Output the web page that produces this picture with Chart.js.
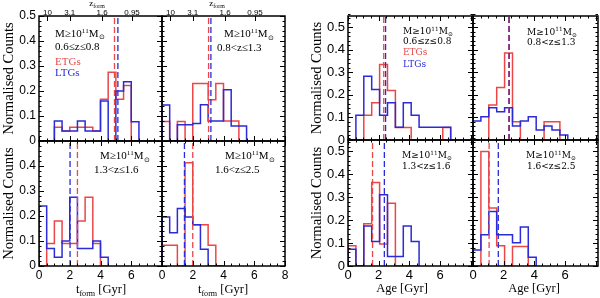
<!DOCTYPE html>
<html><head><meta charset="utf-8">
<script src="https://cdn.jsdelivr.net/npm/chart.js@4.4.1/dist/chart.umd.min.js"></script>
<style>
html,body{margin:0;padding:0;background:#fff;}
#wrap{position:relative;width:600px;height:298px;overflow:hidden;background:#fff;}
#wrap canvas{position:absolute;left:0;top:0;}
.t{position:absolute;white-space:nowrap;line-height:1;transform:translateY(-50%);color:#000;z-index:5;}
.c{transform:translate(-50%,-50%);}
.lf{font-family:"Liberation Serif",serif;font-size:11px;}
.rf{font-family:"DejaVu Serif",serif;font-size:9px;}
.xt{font-family:"Liberation Serif",serif;font-size:12.5px;}
.zt{font-family:"Liberation Serif",serif;font-size:9px;}
.t sup,.t sub{font-size:65%;line-height:0;position:relative;vertical-align:baseline;}
.t sup{top:-0.55em}.t sub{top:0.35em}
</style></head>
<body><div id="wrap"></div>
<script>
// ---------------- data ----------------
const tformEdges = [0,0.5,1,1.5,2,2.5,3,3.5,4,4.5,5,5.5,6,6.5,7,7.5,8];
const ageEdges = [0,0.515,1.03,1.545,2.06,2.575,3.09,3.605,4.12,4.635,5.15,5.665,6.18,6.695];

// formation time histograms (left figure)
const tf_z06_08_ETG = [0,0,0.055,0.04,0.055,0.055,0.055,0.04,0.167,0.275,0.167,0.222,0];
const tf_z06_08_LTG = [0,0,0.08,0.04,0.04,0.08,0.04,0.04,0.16,0,0.2,0.237,0.077];
const tf_z08_13_ETG = [0.078,0,0.078,0,0.23,0.23,0.165,0.23,0.08,0.08,0];
const tf_z08_13_LTG = [0.144,0,0.065,0.065,0.07,0.145,0.08,0.08,0.205,0.06,0.06];
const tf_z13_16_ETG = [0,0.09,0.18,0.09,0.09,0.18,0.275,0.09,0];
const tf_z13_16_LTG = [0.24,0.07,0.035,0.1,0.275,0.07,0.07,0.1,0.035];
const tf_z16_25_ETG = [0.083,0.083,0,0.413,0.165,0.165,0.083,0];
const tf_z16_25_LTG = [0.196,0.133,0.23,0.196,0.165,0.067,0,0];

// age histograms (right figure)
const age_z06_08_ETG = [0,0,0.11,0.165,0.335,0.22,0.055,0.055,0,0,0,0,0.055];
const age_z06_08_LTG = [0,0.11,0.283,0.224,0.11,0.165,0.056,0.165,0.11,0.056,0.056,0.056,0.056];
const age_z08_13_ETG = [0,0,0.155,0.233,0.386,0.081,0,0,0,0.081,0.081,0];
const age_z08_13_LTG = [0.084,0.103,0.143,0.125,0.143,0.062,0.084,0.103,0.044,0.062,0.044,0.022];
const age_z13_16_ETG = [0.088,0,0.184,0.365,0.096,0.274,0,0,0];
const age_z13_16_LTG = [0.073,0,0.175,0.107,0.311,0.041,0.041,0.175,0.107];
const age_z16_25_ETG = [0,0.5,0.253,0.088,0,0.085,0.085,0];
const age_z16_25_LTG = [0.07,0.136,0.238,0.136,0.136,0.102,0.17,0.038];

// medians (order: 0.6-0.8, 0.8-1.3, 1.3-1.6, 1.6-2.5)
const medTformETG = [4.91,3.03,2.5,2.0];
const medTformLTG = [5.13,3.18,2.02,1.46];
const medAgeETG = [2.33,2.33,1.6,1.05];
const medAgeLTG = [2.45,2.36,2.37,1.65];

// top axis (redshift of formation)
const zTickPos = [0.55,2.0,4.1,6.05];
const zTickLabels = ['10','3.1','1.6','0.95'];

const RED = '#eb4747', BLUE = '#2b2bd8';

// ---------------- helpers ----------------
function histPoints(edges, vals){
  const pts=[{x:edges[0],y:0}];
  vals.forEach((v,i)=>pts.push({x:edges[i],y:v}));
  pts.push({x:edges[vals.length],y:0});
  return pts;
}

const framePlugin = {
  id:'frame',
  afterDatasetsDraw(chart){
    const o = chart.options.plugins.frame;
    const {ctx, chartArea:{left,right,top,bottom}, scales:{x,y}} = chart;
    ctx.save();
    ctx.strokeStyle='#000'; ctx.lineWidth=1;
    const seg=(a,b,c,d)=>{ctx.beginPath();ctx.moveTo(a,b);ctx.lineTo(c,d);ctx.stroke();};
    const ny=Math.round(o.yMax/0.02);
    for(let k=0;k<=ny;k++){
      const py=Math.round(y.getPixelForValue(k*0.02))+0.5;
      const len=(k%5===0)?5:2.5;
      seg(left,py,left+len,py); seg(right,py,right-len,py);
    }
    const nx=Math.floor(o.xMax/0.5+1e-6);
    for(let k=0;k<=nx;k++){
      const px=Math.round(x.getPixelForValue(k*0.5))+0.5;
      const len=(k%4===0)?5:2.5;
      seg(px,bottom,px,bottom-len);
      if(!o.zTop) seg(px,top,px,top+len);
    }
    if(o.zTop){
      zTickPos.forEach(v=>{const px=Math.round(x.getPixelForValue(v))+0.5; seg(px,top,px,top+5);});
    }
    ctx.lineWidth=1.5;
    ctx.strokeRect(left,top,right-left,bottom-top);
    ctx.restore();
  }
};

const wrap=document.getElementById('wrap');

function build(p){
  const [l,t,r,b]=p.rect;
  const cv=document.createElement('canvas'); cv.width=600; cv.height=298; wrap.appendChild(cv);
  const yW=p.yLab? l-p.yLeft : 0;
  const xH=p.xLab? 298-b : 0;
  const topH=p.zTop? t : 0;
  const tickFont={family:'"Liberation Sans", Arial, sans-serif', size:p.fs};
  const scales={
    x:{type:'linear',min:0,max:p.xMax,display:p.xLab,position:'bottom',
       grid:{display:false,drawTicks:false},border:{display:false},
       ticks:{stepSize:2,includeBounds:false,autoSkip:false,maxRotation:0,padding:2,color:'#000',font:tickFont,
              callback:v=>(p.xShow.includes(v)?String(v):'')},
       afterFit:s=>{s.height=xH;}},
    y:{type:'linear',min:0,max:p.yMax,display:p.yLab,position:'left',
       grid:{display:false,drawTicks:false},border:{display:false},
       ticks:{stepSize:0.1,includeBounds:false,padding:3,color:'#000',font:tickFont,
              callback:v=>{ if(p.yHideTop && Math.abs(v-0.5)<1e-6) return ''; return Math.abs(v)<1e-9?'0':v.toFixed(1);} },
       title:{display:true,text:'Normalised Counts',color:'#000',font:{family:'"Liberation Serif", serif',size:14.5},padding:{top:p.yTitlePad,bottom:0}},
       afterFit:s=>{s.width=yW;}}
  };
  if(p.zTop){
    scales.x2={type:'linear',min:0,max:p.xMax,position:'top',display:true,
      grid:{display:false,drawTicks:false},border:{display:false},
      afterBuildTicks:s=>{s.ticks=zTickPos.map(v=>({value:v}));},
      ticks:{autoSkip:false,maxRotation:0,padding:-2,color:'#000',font:{family:'"Liberation Sans", Arial, sans-serif',size:8},
             callback:(v,i)=>zTickLabels[i]},
      afterFit:s=>{s.height=topH;}};
  }
  const dash=(m,c)=>({data:[{x:m,y:0},{x:m,y:p.yMax}],borderColor:c,borderWidth:1.3,borderDash:[6,3],pointRadius:0,fill:false});
  const hist=(vals,c)=>({data:histPoints(p.edges,vals),borderColor:c,borderWidth:1.5,stepped:true,pointRadius:0,fill:false,tension:0});
  new Chart(cv,{
    type:'line',
    data:{datasets:[dash(p.medL,BLUE),dash(p.medE,RED),hist(p.ltg,BLUE),hist(p.etg,RED)]},
    options:{responsive:false,animation:false,devicePixelRatio:1,events:[],
      layout:{padding:{left:l-yW,top:t-topH,right:600-r,bottom:298-b-xH}},
      scales,
      plugins:{legend:{display:false},tooltip:{enabled:false},frame:{xMax:p.xMax,yMax:p.yMax,zTop:p.zTop}}},
    plugins:[framePlugin]
  });
}

const L={yLeft:0,yTitlePad:0,fs:12,xMax:8,yMax:0.5,edges:tformEdges};
const R={yLeft:307,yTitlePad:1,fs:13,xMax:8.15,yMax:0.55,edges:ageEdges};
const panels=[
  {...L,rect:[39,16,162,141],yLab:true,yHideTop:false,xLab:false,zTop:true,xShow:[],etg:tf_z06_08_ETG,ltg:tf_z06_08_LTG,medE:medTformETG[0],medL:medTformLTG[0]},
  {...L,rect:[162,16,285,141],yLab:false,yHideTop:false,xLab:false,zTop:true,xShow:[],etg:tf_z08_13_ETG,ltg:tf_z08_13_LTG,medE:medTformETG[1],medL:medTformLTG[1]},
  {...L,rect:[39,141,162,266],yLab:true,yHideTop:true,xLab:true,zTop:false,xShow:[0,2,4,6],etg:tf_z13_16_ETG,ltg:tf_z13_16_LTG,medE:medTformETG[2],medL:medTformLTG[2]},
  {...L,rect:[162,141,285,266],yLab:false,yHideTop:false,xLab:true,zTop:false,xShow:[0,2,4,6,8],etg:tf_z16_25_ETG,ltg:tf_z16_25_LTG,medE:medTformETG[3],medL:medTformLTG[3]},
  {...R,rect:[348,16,473,140],yLab:true,yHideTop:false,xLab:false,zTop:false,xShow:[],etg:age_z06_08_ETG,ltg:age_z06_08_LTG,medE:medAgeETG[0],medL:medAgeLTG[0]},
  {...R,rect:[473,16,598,140],yLab:false,yHideTop:false,xLab:false,zTop:false,xShow:[],etg:age_z08_13_ETG,ltg:age_z08_13_LTG,medE:medAgeETG[1],medL:medAgeLTG[1]},
  {...R,rect:[348,140,473,266],yLab:true,yHideTop:false,xLab:true,zTop:false,xShow:[0,2,4,6],etg:age_z13_16_ETG,ltg:age_z13_16_LTG,medE:medAgeETG[2],medL:medAgeLTG[2]},
  {...R,rect:[473,140,598,266],yLab:false,yHideTop:false,xLab:true,zTop:false,xShow:[0,2,4,6],etg:age_z16_25_ETG,ltg:age_z16_25_LTG,medE:medAgeETG[3],medL:medAgeLTG[3]}
];
panels.forEach(build);

// ---------------- text ----------------
const MASS='M≥10<sup>11</sup>M<sub>⊙</sub>';
const texts=[
  // left figure
  {x:55,y:32.5,c:'lf',h:MASS},{x:55,y:46,c:'lf',h:'0.6≤z≤0.8'},
  {x:55,y:60.5,c:'lf',h:'ETGs',col:RED},{x:55,y:71.5,c:'lf',h:'LTGs',col:BLUE},
  {x:224,y:33,c:'lf',h:MASS},{x:217,y:46.5,c:'lf',h:'0.8&lt;z≤1.3'},
  {x:100,y:155,c:'lf',h:MASS},{x:94,y:169,c:'lf',h:'1.3&lt;z≤1.6'},
  {x:225,y:155,c:'lf',h:MASS},{x:215,y:169,c:'lf',h:'1.6&lt;z≤2.5'},
  // right figure
  {x:403,y:31,c:'rf',h:MASS},{x:403,y:40.5,c:'rf',h:'0.6≤z≤0.8'},
  {x:403,y:52,c:'rf',h:'ETGs',col:RED},{x:403,y:64,c:'rf',h:'LTGs',col:BLUE},
  {x:527,y:31.5,c:'rf',h:MASS},{x:527,y:42,c:'rf',h:'0.8&lt;z≤1.3'},
  {x:402,y:155,c:'rf',h:MASS},{x:402,y:165.5,c:'rf',h:'1.3&lt;z≤1.6'},
  {x:526,y:155,c:'rf',h:MASS},{x:527,y:165.5,c:'rf',h:'1.6&lt;z≤2.5'},
  // axis titles
  {x:101,y:289,c:'xt c',h:'t<sub>form</sub> [Gyr]'},{x:223,y:289,c:'xt c',h:'t<sub>form</sub> [Gyr]'},
  {x:402,y:288,c:'xt c',h:'Age [Gyr]'},{x:534,y:288,c:'xt c',h:'Age [Gyr]'},
  {x:97,y:2.5,c:'zt c',h:'z<sub>form</sub>'},{x:217,y:2.5,c:'zt c',h:'z<sub>form</sub>'}
];
texts.forEach(o=>{
  const d=document.createElement('div');
  d.className='t '+o.c; d.style.left=o.x+'px'; d.style.top=o.y+'px';
  if(o.col) d.style.color=o.col;
  d.innerHTML=o.h; wrap.appendChild(d);
});
</script>
</body></html>
